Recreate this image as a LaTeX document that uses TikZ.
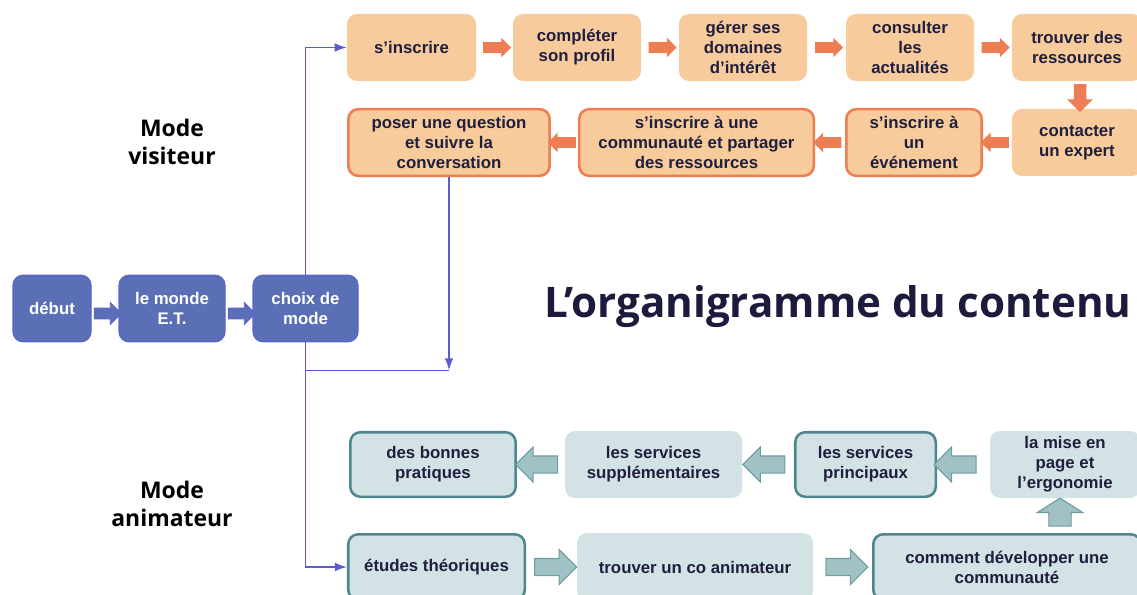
\documentclass[tikz,border=0pt]{standalone}
\usepackage{fontspec}
\setmainfont{Liberation Sans}
\newfontfamily\headfont{Open Sans}
\usepackage{tikz}
\usetikzlibrary{arrows.meta,positioning,calc,shapes.arrows}

\definecolor{peach}{HTML}{F8CB9C}
\definecolor{coral}{HTML}{ED7D52}
\definecolor{bluefill}{HTML}{5A6FB5}
\definecolor{blueedge}{HTML}{5C62CF}
\definecolor{linkblue}{HTML}{5B5BD6}
\definecolor{tealfill}{HTML}{D3E2E5}
\definecolor{tealedge}{HTML}{4E8690}
\definecolor{tealarrowfill}{HTML}{A1C2C5}
\definecolor{tealarrowedge}{HTML}{6A9CA2}
\definecolor{txt}{HTML}{1F1F3D}
\definecolor{titlecol}{HTML}{1C1B3B}

\begin{document}
\begin{tikzpicture}[x=0.75pt,y=-0.75pt,
        box/.style={rectangle,rounded corners=7.5pt,align=center,inner sep=1pt,text=txt,font=\bfseries\fontsize{12.6}{15}\selectfont},
        peachbox/.style={box,fill=peach},
        peachframe/.style={box,fill=peach,draw=coral,line width=1.9pt},
        bluebox/.style={box,fill=bluefill,draw=blueedge,line width=0.8pt,text=white,minimum height=50pt},
        tealbox/.style={box,fill=tealfill},
        tealframe/.style={box,fill=tealfill,draw=tealedge,line width=1.9pt},
        blockarrow/.style={single arrow,inner xsep=0pt,single arrow head indent=0pt,minimum width=0pt},
        peacharrow/.style={blockarrow,fill=coral,minimum height=21pt,inner ysep=3.75pt,single arrow head extend=3.4pt},
        bluearrow/.style={blockarrow,fill=bluefill,draw=blueedge,line width=0.6pt,minimum height=20.25pt,inner ysep=3.75pt,single arrow head extend=4.1pt},
        tealarrow/.style={blockarrow,fill=tealarrowfill,draw=tealarrowedge,line width=0.8pt,minimum height=31.5pt,inner ysep=6pt,single arrow head extend=6.75pt},
        link/.style={draw=linkblue,line width=1.1pt},
        linkarrow/.style={link,-{Latex[length=9pt,width=6.5pt]}},
        modelabel/.style={align=center,font=\headfont\bfseries\fontsize{17.2}{21}\selectfont}]
                \useasboundingbox (0,0) rectangle (1137,595);

                % Start boxes
                \node[bluebox,minimum width=58.5pt] (debut) at (52,308.5) {début};
                \node[bluebox,minimum width=79.5pt] (monde) at (172,308.5) {le monde\\E.T.};
                \node[bluebox,minimum width=78.75pt] (choix) at (305.5,308.5) {choix de\\mode};
                \node[bluearrow] (ba1) at ($(debut.east)!0.5!(monde.west)+(0,5)$) {};
                \node[bluearrow] (ba2) at ($(monde.east)!0.5!(choix.west)+(0,5)$) {};

                % Mode labels
                \node[modelabel] (visiteur) at (172,141.5) {Mode\\visiteur};
                \node[modelabel] (animateur) at (172,504) {Mode\\animateur};

                % Title
                \node[font=\headfont\bfseries\fontsize{31.6}{38}\selectfont,text=titlecol] (title) at (838,307) {L’organigramme du contenu};

                % Visitor first row
                \node[peachbox,minimum width=96.75pt,minimum height=50.25pt] (sinscrire) at (411.5,47.5) {s’inscrire};
                \node[peachbox,minimum width=96pt,minimum height=50.25pt] (completer) at (577,47.5) {compléter\\son profil};
                \node[peachbox,minimum width=96pt,minimum height=50.25pt] (gerer) at (743,47.5) {gérer ses\\domaines\\d’intérêt};
                \node[peachbox,minimum width=96pt,minimum height=50.25pt] (consulter) at (910,47.5) {consulter\\les\\actualités};
                \node[peachbox,minimum width=97.5pt,minimum height=50.25pt] (trouverres) at (1077,47.5) {trouver des\\ressources};

                % Visitor second row
                \node[peachbox,minimum width=97.5pt,minimum height=50.25pt] (contacter) at (1077,142.5) {contacter\\un expert};
                \node[peachframe,minimum width=101.6pt,minimum height=50pt] (evenement) at (914,142.5) {s’inscrire à\\un\\événement};
                \node[peachframe,minimum width=176pt,minimum height=50pt] (communaute) at (696.5,142.5) {s’inscrire à une\\communauté et partager\\des ressources};
                \node[peachframe,minimum width=151pt,minimum height=50pt] (poser) at (449,142.5) {poser une question\\et suivre la\\conversation};

                % Visitor arrows
                \node[peacharrow] (pa1) at ($(sinscrire.east)!0.5!(completer.west)$) {};
                \node[peacharrow] (pa2) at ($(completer.east)!0.5!(gerer.west)$) {};
                \node[peacharrow] (pa3) at ($(gerer.east)!0.5!(consulter.west)$) {};
                \node[peacharrow] (pa4) at ($(consulter.east)!0.5!(trouverres.west)$) {};
                \node[peacharrow,shape border rotate=270,inner xsep=4.5pt,inner ysep=0pt,single arrow head extend=4.9pt] (pa5) at ($(trouverres.south)!0.5!(contacter.north)+(3,0)$) {};
                \node[peacharrow,shape border rotate=180] (pa6) at ($(contacter.west)!0.5!(evenement.east)$) {};
                \node[peacharrow,shape border rotate=180] (pa7) at ($(evenement.west)!0.5!(communaute.east)$) {};
                \node[peacharrow,shape border rotate=180] (pa8) at ($(communaute.west)!0.5!(poser.east)$) {};

                % Animator first row
                \node[tealframe,minimum width=124pt,minimum height=48.4pt] (bonnes) at (433,464.5) {des bonnes\\pratiques};
                \node[tealbox,minimum width=132.75pt,minimum height=50.25pt] (supp) at (653.5,464.5) {les services\\supplémentaires};
                \node[tealframe,minimum width=105.4pt,minimum height=48.4pt] (principaux) at (865.5,464.5) {les services\\principaux};
                \node[tealbox,minimum width=112.5pt,minimum height=50.25pt] (misepage) at (1065,464.5) {la mise en\\page et\\l’ergonomie};

                % Animator second row
                \node[tealframe,minimum width=132.4pt,minimum height=49.1pt] (etudes) at (436.5,567) {études théoriques};
                \node[tealbox,minimum width=177pt,minimum height=51pt] (coanim) at (695,567) {trouver un co animateur};
                \node[tealframe,minimum width=200.6pt,minimum height=49.1pt] (comment) at (1007,567) {comment développer une\\communauté};

                % Animator arrows
                \node[tealarrow] (ta1) at ($(etudes.east)!0.5!(coanim.west)$) {};
                \node[tealarrow] (ta2) at ($(coanim.east)!0.5!(comment.west)$) {};
                \node[tealarrow,shape border rotate=90,minimum height=21pt,inner xsep=7.9pt,inner ysep=0pt,single arrow head extend=8.6pt,single arrow tip angle=115] (ta3) at ($(misepage.south)!0.5!(misepage.south |- comment.north)+(-5,0)$) {};
                \node[tealarrow,shape border rotate=180] (ta4) at ($(misepage.west)!0.5!(principaux.east)+(-4,0)$) {};
                \node[tealarrow,shape border rotate=180] (ta5) at ($(principaux.west)!0.5!(supp.east)$) {};
                \node[tealarrow,shape border rotate=180] (ta6) at ($(supp.west)!0.5!(bonnes.east)$) {};

                % Mode choice links
                \coordinate (merge) at ($(choix.south)+(0,28)$);
                \draw[linkarrow] (choix.north) |- (sinscrire.west);
                \draw[linkarrow] (choix.south) |- (etudes.west);
                \draw[linkarrow] (poser.south) -- (poser.south |- merge);
                \draw[link] (merge) -- (poser.south |- merge);

            \end{tikzpicture}
\end{document}
